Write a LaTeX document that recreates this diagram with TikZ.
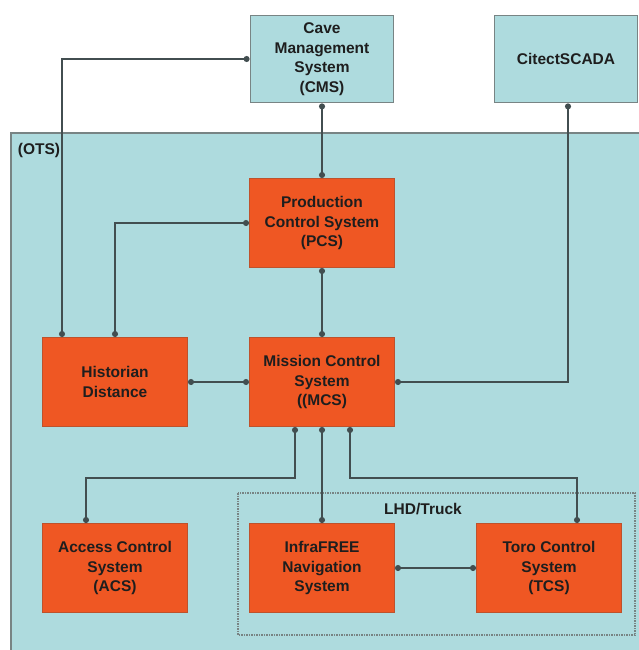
\documentclass[tikz,border=0pt]{standalone}
\usepackage{fontspec}
\setmainfont{Liberation Sans}
\usetikzlibrary{arrows.meta}

\definecolor{otsfill}{RGB}{174,219,222}
\definecolor{otsline}{RGB}{120,132,132}
\definecolor{sysfill}{RGB}{239,87,35}
\definecolor{sysline}{RGB}{190,82,44}
\definecolor{linkcol}{RGB}{66,78,80}
\definecolor{txtcol}{RGB}{30,30,30}

\begin{document}
\begin{tikzpicture}[x=1pt, y=-1pt,
  ext/.style={draw=otsline, line width=1.8pt, fill=otsfill, minimum width=143pt,
              minimum height=87pt, align=center, text=txtcol,
              font=\bfseries\fontsize{15.5}{19.5}\selectfont},
  sys/.style={draw=sysline, line width=1pt, fill=sysfill, minimum width=145pt,
              minimum height=89pt, align=center, text=txtcol,
              font=\bfseries\fontsize{15.5}{19.5}\selectfont},
  link/.style={{Circle[length=6pt]}-{Circle[length=6pt]}, draw=linkcol, line width=1.4pt},
  lbl/.style={text=txtcol, font=\bfseries\fontsize{15.5}{18}\selectfont, inner sep=0pt},
]
\useasboundingbox (0,0) rectangle (638,650);
\fill[white] (0,0) rectangle (638,650);

% operations area
\draw[draw=otsline, line width=1.8pt, fill=otsfill] (11,133) rectangle (650,662);
\node[lbl] (ots) at (39,150) {(OTS)};

% vehicle group
\draw[draw=otsline, line width=2.2pt, dash pattern=on 1.5pt off 1pt]
  (238,493) rectangle (635,635);
\node[lbl] (lhdlbl) at (423,509) {LHD/Truck};

\node[ext] (cms) at (322,59) {Cave\\Management\\System\\(CMS)};
\node[ext] (scada) at (566,59) {CitectSCADA};

\node[sys] (pcs) at (322,223) {Production\\Control System\\(PCS)};
\node[sys] (hist) at (115,382) {Historian\\Distance};
\node[sys] (mcs) at (322,382) {Mission Control\\System\\((MCS)};
\node[sys] (acs) at (115,568) {Access Control\\System\\(ACS)};
\node[sys] (nav) at (322,568) {InfraFREE\\Navigation\\System};
\node[sys] (tcs) at (549,568) {Toro Control\\System\\(TCS)};

\draw[link] (cms.west) -| ([xshift=-53pt]hist.north);
\draw[link] (cms) -- (pcs);
\draw[link] (pcs) -- (mcs);
\draw[link] (pcs.west) -| (hist.north);
\draw[link] (hist) -- (mcs);
\draw[link] (mcs.east) -| ([xshift=2pt]scada.south);
\draw[link] ([xshift=-27pt]mcs.south) -- ++(0,51) -| ([xshift=-29pt]acs.north);
\draw[link] (mcs) -- (nav);
\draw[link] ([xshift=28pt]mcs.south) -- ++(0,51) -| ([xshift=28pt]tcs.north);
\draw[link] (nav) -- (tcs);
\end{tikzpicture}
\end{document}
